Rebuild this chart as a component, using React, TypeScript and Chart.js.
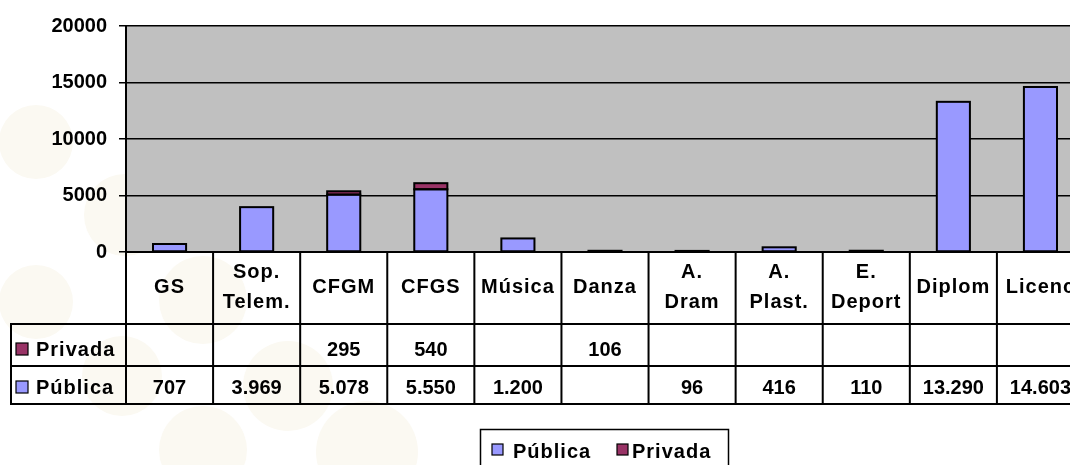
import React, { useEffect, useRef } from 'react';
import { Chart, registerables } from 'chart.js';

Chart.register(...registerables);

// ---- data ----
const categories: (string | string[])[] = [
  'GS', ['Sop.', 'Telem.'], 'CFGM', 'CFGS', 'Música', 'Danza',
  ['A.', 'Dram'], ['A.', 'Plast.'], ['E.', 'Deport'], 'Diplom', 'Licenc',
];
const publica: (number | null)[] = [707, 3969, 5078, 5550, 1200, null, 96, 416, 110, 13290, 14603];
const privada: (number | null)[] = [null, null, 295, 540, null, 106, null, null, null, null, null];
const yTicks = [0, 5000, 10000, 15000, 20000];
const seriesNames = ['Pública', 'Privada'];

// ---- styling ----
const W = 1100;
const H = 480;
const FONT = '"Liberation Sans", Arial, sans-serif';
const COL_PUB = '#9999FF';
const COL_PRI = '#993366';
const CIRCLE_COLOR = '#FBF9F2';
const CIRCLES: [number, number, number][] = [
  [36, 142, 37], [36, 302, 37], [125, 215, 41], [203, 300, 44],
  [122, 376, 40], [288, 386, 45], [203, 450, 44], [367, 452, 51],
];

const fmt = (v: number | null) =>
  v == null ? '' : String(v).replace(/\B(?=(\d{3})+(?!\d))/g, '.');

const outlinePlugin = {
  id: 'barOutline',
  afterDatasetsDraw(chart: any) {
    const ctx = chart.ctx as CanvasRenderingContext2D;
    ctx.save();
    ctx.strokeStyle = '#000';
    ctx.lineWidth = 2;
    chart.data.datasets.forEach((ds: any, di: number) => {
      const meta = chart.getDatasetMeta(di);
      meta.data.forEach((el: any, i: number) => {
        if (ds.data[i] == null) return;
        const { x, y, base, width } = el.getProps(['x', 'y', 'base', 'width'], true);
        const top = Math.min(y, base);
        const h = Math.abs(base - y);
        ctx.strokeRect(x - width / 2, top, width, h);
      });
    });
    ctx.restore();
  },
};

const tablePlugin = {
  id: 'dataTable',
  beforeDraw(chart: any) {
    const ctx = chart.ctx as CanvasRenderingContext2D;
    const a = chart.chartArea;
    ctx.save();
    ctx.fillStyle = '#fff';
    ctx.fillRect(0, 0, chart.width, chart.height);
    ctx.fillStyle = CIRCLE_COLOR;
    for (const [x, y, r] of CIRCLES) {
      ctx.beginPath();
      ctx.arc(x, y, r, 0, Math.PI * 2);
      ctx.fill();
    }
    ctx.fillStyle = '#C0C0C0';
    ctx.fillRect(a.left, a.top, a.right - a.left, a.bottom - a.top);
    ctx.restore();
  },
  afterDraw(chart: any) {
    const ctx = chart.ctx as CanvasRenderingContext2D;
    const a = chart.chartArea;
    const labels = chart.data.labels as (string | string[])[];
    const n = labels.length;
    const colW = (a.right - a.left) / n;
    const headTop = a.bottom;
    const headBot = headTop + 72;
    const r1Bot = headBot + 42;
    const r2Bot = r1Bot + 38;
    const tableLeft = 11;

    ctx.save();
    ctx.strokeStyle = '#000';
    ctx.lineWidth = 2;
    ctx.beginPath();
    for (let i = 0; i <= n; i++) {
      const x = a.left + i * colW;
      ctx.moveTo(x, headTop);
      ctx.lineTo(x, r2Bot);
    }
    ctx.moveTo(tableLeft, headBot);
    ctx.lineTo(tableLeft, r2Bot);
    for (const y of [headBot, r1Bot, r2Bot]) {
      ctx.moveTo(tableLeft - 1, y);
      ctx.lineTo(a.right + 1, y);
    }
    ctx.stroke();

    ctx.fillStyle = '#000';
    ctx.textAlign = 'center';
    ctx.textBaseline = 'alphabetic';
    ctx.font = `bold 20px ${FONT}`;
    const hc = (headTop + headBot) / 2 + 5;
    labels.forEach((lab, i) => {
      const cx = a.left + (i + 0.5) * colW;
      const lines = Array.isArray(lab) ? lab : [lab];
      (ctx as any).letterSpacing = '1px';
      if (lines.length === 1) {
        ctx.fillText(lines[0], cx, hc);
      } else {
        ctx.fillText(lines[0], cx, hc - 15);
        ctx.fillText(lines[1], cx, hc + 15);
      }
    });

    const ds = chart.data.datasets;
    const rows = [
      { d: ds[1], top: headBot, bot: r1Bot },
      { d: ds[0], top: r1Bot, bot: r2Bot },
    ];
    for (const row of rows) {
      const base = row.bot - 10;
      ctx.fillStyle = row.d.backgroundColor;
      ctx.fillRect(16, base - 13, 12, 12);
      ctx.lineWidth = 1.2;
      ctx.strokeRect(16, base - 13, 12, 12);
      ctx.fillStyle = '#000';
      ctx.textAlign = 'left';
      (ctx as any).letterSpacing = '1px';
      ctx.fillText(row.d.label, 36, base);
      ctx.textAlign = 'center';
      (ctx as any).letterSpacing = '0px';
      (row.d.data as (number | null)[]).forEach((v, i) => {
        const cx = a.left + (i + 0.5) * colW;
        ctx.fillText(fmt(v), cx, base);
      });
    }

    // legend
    ctx.lineWidth = 1.5;
    ctx.strokeRect(480.5, 429.5, 248, 60);
    const items = [
      { d: ds[0], sx: 492, tx: 513 },
      { d: ds[1], sx: 617, tx: 632 },
    ];
    ctx.textAlign = 'left';
    (ctx as any).letterSpacing = '1px';
    for (const it of items) {
      ctx.fillStyle = it.d.backgroundColor;
      ctx.fillRect(it.sx, 444, 11, 11);
      ctx.lineWidth = 1.2;
      ctx.strokeRect(it.sx, 444, 11, 11);
      ctx.fillStyle = '#000';
      ctx.fillText(it.d.label, it.tx, 458);
    }
    ctx.restore();
  },
};

export default function App() {
  const ref = useRef<HTMLCanvasElement>(null);
  useEffect(() => {
    if (!ref.current) return;
    const chart = new Chart(ref.current, {
      type: 'bar',
      data: {
        labels: categories as any,
        datasets: [
          {
            label: seriesNames[0],
            data: publica,
            backgroundColor: COL_PUB,
            borderWidth: 0,
            categoryPercentage: 1,
            barPercentage: 0.38,
          },
          {
            label: seriesNames[1],
            data: privada,
            backgroundColor: COL_PRI,
            borderWidth: 0,
            categoryPercentage: 1,
            barPercentage: 0.38,
          },
        ],
      },
      options: {
        responsive: false,
        animation: false,
        devicePixelRatio: 1,
        layout: { padding: { left: 0, top: 26, right: W - 1084, bottom: H - 252 } },
        plugins: { legend: { display: false }, tooltip: { enabled: false } },
        scales: {
          x: {
            stacked: true,
            grid: { display: false },
            ticks: { display: false },
            border: { display: true, color: '#000', width: 2 },
            afterFit: (s: any) => { s.height = 0; },
          },
          y: {
            stacked: true,
            min: 0,
            max: 20000,
            afterBuildTicks: (s: any) => { s.ticks = yTicks.map((v) => ({ value: v })); },
            ticks: {
              color: '#000',
              padding: 12,
              font: { family: FONT, size: 20, weight: 'bold' },
              callback: (v: any) => String(v),
            },
            grid: { color: '#000', lineWidth: 1.5, tickLength: 7, drawTicks: true },
            border: { color: '#000', width: 2 },
            afterFit: (s: any) => { s.width = 126; },
          },
        },
      },
      plugins: [tablePlugin, outlinePlugin],
    } as any);
    return () => chart.destroy();
  }, []);
  return (
    <div style={{ position: 'fixed', left: 0, top: 0, width: 1070, height: 465, overflow: 'hidden', background: '#fff' }}>
      <canvas ref={ref} width={W} height={H} style={{ display: 'block', width: W, height: H }} />
    </div>
  );
}
